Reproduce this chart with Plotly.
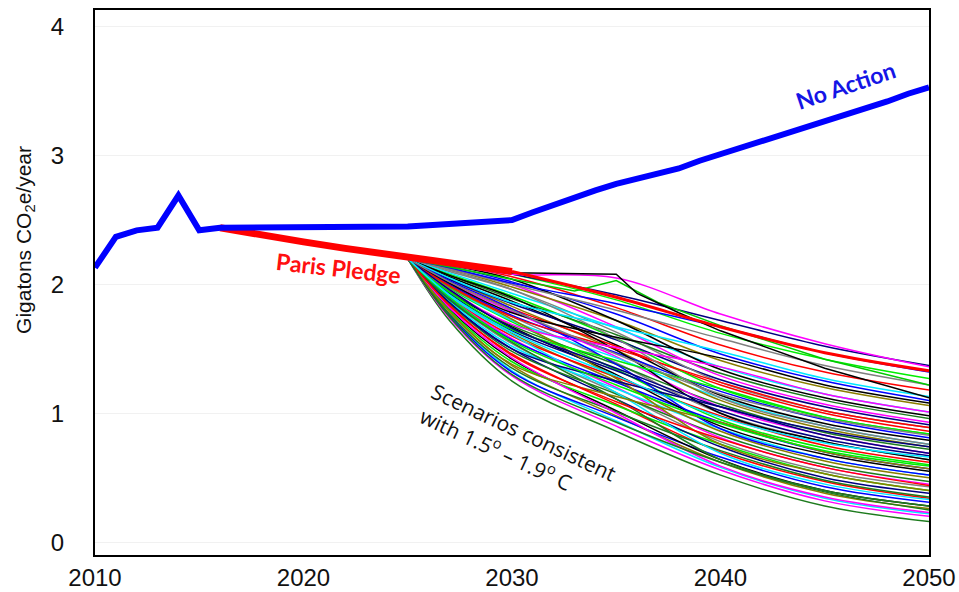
import plotly.graph_objects as go

# ---- data -------------------------------------------------------------
NO_ACTION_YEARS = list(range(2010, 2051))
NO_ACTION = [2.13, 2.37, 2.42, 2.44, 2.69, 2.42, 2.44, 2.44, 2.45, 2.45,
             2.45, 2.45, 2.45, 2.45, 2.45, 2.45, 2.46, 2.47, 2.48, 2.49,
             2.50, 2.56, 2.62, 2.68, 2.73, 2.78, 2.82, 2.85, 2.90, 2.96,
             3.01, 3.06, 3.11, 3.16, 3.21, 3.26, 3.31, 3.36, 3.42, 3.48,
             3.53]

PARIS_YEARS = [2016, 2018, 2020, 2022, 2025, 2027, 2030]
PARIS = [2.44, 2.38, 2.33, 2.28, 2.21, 2.16, 2.10]

PARIS_EXT_YEARS = [2030, 2035, 2040, 2045, 2050]
PARIS_EXT = [2.10, 1.90, 1.67, 1.47, 1.33]

SCENARIO_YEARS = [2025, 2027, 2030, 2035, 2040, 2045, 2050]
SCENARIOS = [
    [2.20, 1.72, 1.25, 0.86, 0.52, 0.28, 0.16],
    [2.20, 1.74, 1.29, 0.90, 0.56, 0.32, 0.20],
    [2.20, 1.77, 1.33, 0.94, 0.58, 0.34, 0.22],
    [2.20, 1.79, 1.37, 0.98, 0.62, 0.38, 0.26],
    [2.20, 1.76, 1.32, 0.97, 0.66, 0.43, 0.31],
    [2.20, 1.81, 1.42, 1.02, 0.64, 0.40, 0.28],
    [2.20, 1.83, 1.46, 1.07, 0.70, 0.47, 0.34],
    [2.20, 1.80, 1.40, 1.06, 0.76, 0.53, 0.40],
    [2.20, 1.86, 1.50, 1.11, 0.74, 0.50, 0.38],
    [2.20, 1.88, 1.54, 1.16, 0.78, 0.55, 0.43],
    [2.20, 1.85, 1.48, 1.15, 0.83, 0.60, 0.47],
    [2.20, 1.90, 1.58, 1.20, 0.81, 0.58, 0.45],
    [2.20, 1.87, 1.52, 1.19, 0.88, 0.65, 0.52],
    [2.20, 1.92, 1.62, 1.25, 0.86, 0.63, 0.50],
    [2.20, 1.89, 1.57, 1.24, 0.93, 0.70, 0.57],
    [2.20, 1.94, 1.67, 1.30, 0.90, 0.68, 0.55],
    [2.20, 1.91, 1.60, 1.28, 0.98, 0.75, 0.62],
    [2.20, 1.97, 1.71, 1.34, 0.95, 0.73, 0.60],
    [2.20, 1.93, 1.64, 1.33, 1.02, 0.80, 0.67],
    [2.20, 1.99, 1.75, 1.39, 1.00, 0.78, 0.64],
    [2.20, 1.95, 1.68, 1.38, 1.07, 0.85, 0.72],
    [2.20, 2.01, 1.79, 1.44, 1.05, 0.83, 0.69],
    [2.20, 1.98, 1.72, 1.43, 1.12, 0.90, 0.76],
    [2.20, 2.04, 1.83, 1.49, 1.10, 0.88, 0.74],
    [2.20, 2.00, 1.76, 1.47, 1.17, 0.95, 0.81],
    [2.20, 2.06, 1.87, 1.53, 1.14, 0.92, 0.79],
    [2.20, 2.02, 1.81, 1.52, 1.22, 1.00, 0.86],
    [2.20, 2.08, 1.91, 1.58, 1.19, 0.97, 0.84],
    [2.20, 2.04, 1.85, 1.57, 1.26, 1.05, 0.91],
    [2.20, 2.10, 1.96, 1.63, 1.24, 1.02, 0.89],
    [2.20, 2.07, 1.89, 1.61, 1.31, 1.10, 0.96],
    [2.20, 2.12, 2.00, 1.67, 1.29, 1.07, 0.93],
    [2.20, 2.09, 1.93, 1.66, 1.36, 1.15, 1.01],
    [2.20, 2.12, 1.98, 1.72, 1.41, 1.20, 1.06],
    [2.20, 2.14, 2.02, 1.77, 1.46, 1.25, 1.10],
    [2.20, 2.15, 2.04, 1.72, 1.34, 1.12, 0.98],
    [2.20, 2.16, 2.06, 1.82, 1.53, 1.32, 1.18],
    [2.20, 2.17, 2.08, 1.88, 1.62, 1.42, 1.27],
    [2.20, 2.17, 2.08, 1.92, 1.72, 1.52, 1.37],
    [2.20, 2.12, 2.00, 1.80, 1.58, 1.37, 1.22],
    [2.20, 1.77, 1.35, 1.01, 0.71, 0.48, 0.35],
    [2.20, 1.82, 1.43, 1.00, 0.59, 0.35, 0.23],
    [2.20, 1.91, 1.61, 1.16, 0.69, 0.45, 0.33],
    [2.20, 1.98, 1.73, 1.27, 0.76, 0.53, 0.40],
    [2.20, 2.03, 1.81, 1.38, 0.88, 0.65, 0.52],
    [2.20, 2.07, 1.90, 1.49, 1.00, 0.78, 0.64],
    [2.20, 1.99, 1.75, 1.50, 1.24, 1.02, 0.89],
    [2.20, 1.94, 1.65, 1.41, 1.19, 0.97, 0.84],
    [2.20, 1.86, 1.50, 1.25, 1.05, 0.83, 0.69],
    [2.20, 2.11, 1.96, 1.58, 1.12, 0.90, 0.76],
    [2.20, 1.88, 1.55, 1.11, 0.64, 0.40, 0.28],
    [2.20, 1.96, 1.69, 1.51, 1.36, 1.15, 1.01],
    [2.20, 2.05, 1.86, 1.67, 1.48, 1.27, 1.13],
    [2.20, 1.79, 1.38, 1.13, 0.93, 0.70, 0.57],
    [2.20, 2.13, 2.01, 1.85, 1.67, 1.47, 1.32],
    [2.20, 2.01, 1.78, 1.59, 1.43, 1.22, 1.08],
    [2.20, 1.84, 1.45, 1.09, 0.80, 0.58, 0.44],
    [2.20, 1.90, 1.56, 1.22, 0.92, 0.71, 0.59],
    [2.20, 1.96, 1.66, 1.35, 1.05, 0.86, 0.74],
    [2.20, 2.02, 1.80, 1.46, 1.15, 0.96, 0.83],
    [2.20, 1.75, 1.30, 0.93, 0.62, 0.39, 0.25],
    [2.20, 2.15, 2.08, 2.05, 1.77, 1.54, 1.36],
    [2.20, 1.92, 1.63, 1.29, 0.97, 0.77, 0.66],
]

# scenario that holds flat for a few years before dropping
FLAT_YEARS = [2025, 2027, 2030, 2035, 2036, 2038, 2040, 2045, 2050]
FLAT = [2.20, 2.15, 2.09, 2.08, 1.93, 1.78, 1.64, 1.35, 1.12]

# scenario that dips and recovers briefly around 2033-2035
DIP_YEARS = [2025, 2030, 2033, 2035, 2037, 2040, 2045, 2050]
DIP = [2.20, 2.04, 1.95, 2.03, 1.86, 1.68, 1.42, 1.22]

Y_TICKS = [0, 1, 2, 3, 4]
X_TICKS = [2010, 2020, 2030, 2040, 2050]

PALETTE = ['#1e7b1e', '#ff00ff', '#00e8ff', '#8a7d00', '#0000ff',
           '#000000', '#ff0000', '#00ee00', '#000080', '#808080']

# ---- figure -----------------------------------------------------------
fig = go.Figure()

for i, vals in enumerate(SCENARIOS):
    fig.add_trace(go.Scatter(
        x=SCENARIO_YEARS, y=vals, mode='lines',
        line=dict(color=PALETTE[i % len(PALETTE)], width=1.5,
                  shape='spline', smoothing=1.0),
        hoverinfo='skip', showlegend=False))

fig.add_trace(go.Scatter(x=DIP_YEARS, y=DIP, mode='lines',
                         line=dict(color='#00cc00', width=1.5),
                         hoverinfo='skip', showlegend=False))
fig.add_trace(go.Scatter(x=FLAT_YEARS, y=FLAT, mode='lines',
                         line=dict(color='#000000', width=1.5),
                         hoverinfo='skip', showlegend=False))

fig.add_trace(go.Scatter(x=PARIS_EXT_YEARS, y=PARIS_EXT, mode='lines',
                         line=dict(color='#ff0000', width=3, shape='spline'),
                         showlegend=False))
fig.add_trace(go.Scatter(x=PARIS_YEARS, y=PARIS, mode='lines',
                         line=dict(color='#ff0000', width=7),
                         showlegend=False))
fig.add_trace(go.Scatter(x=NO_ACTION_YEARS, y=NO_ACTION, mode='lines',
                         line=dict(color='#0000ff', width=6),
                         showlegend=False))

label_font = 'Lato, "Open Sans", sans-serif'
fig.add_annotation(x=2046.0, y=3.55, text='<b>No Action</b>', showarrow=False,
                   textangle=-18.5, font=dict(family=label_font, size=23, color='#1515e6'))
fig.add_annotation(x=2021.7, y=2.13, text='<b>Paris Pledge</b>', showarrow=False,
                   textangle=6.5, font=dict(family=label_font, size=23, color='#ff1010'))
fig.add_annotation(x=2030.3, y=0.76,
                   text='Scenarios consistent<br>with 1.5<sup>o</sup> \u2013 1.9<sup>o</sup> C',
                   showarrow=False, align='left', textangle=25,
                   font=dict(family='"Open Sans", sans-serif', size=21, color='#111111'))

fig.add_annotation(xref='paper', yref='paper', x=-0.084, y=0.578,
                   xanchor='center', yanchor='middle',
                   text='Gigatons CO<sub>2</sub>e/year', showarrow=False, textangle=-90,
                   font=dict(family='"Liberation Sans", Arial, sans-serif', size=21, color='#111111'))

axis_font = dict(family='"Liberation Sans", Arial, sans-serif', size=24, color='#111111')
fig.update_xaxes(range=[2010, 2050], tickvals=X_TICKS, showgrid=False, zeroline=False,
                 showline=True, mirror=True, linecolor='#000000', linewidth=2,
                 ticks='', tickfont=axis_font, ticklabelstandoff=0, automargin=False)
fig.update_yaxes(range=[-0.1, 4.13], tickvals=Y_TICKS, showgrid=True, gridcolor='#f1f1f1',
                 zeroline=False, showline=True, mirror=True, linecolor='#000000', linewidth=2,
                 ticks='', tickfont=axis_font, ticklabelstandoff=24, automargin=False)

fig.update_layout(width=959, height=592, margin=dict(l=95, r=30, t=10, b=37, autoexpand=False),
                  paper_bgcolor='white', plot_bgcolor='white', showlegend=False)

fig.write_html('out.html')
